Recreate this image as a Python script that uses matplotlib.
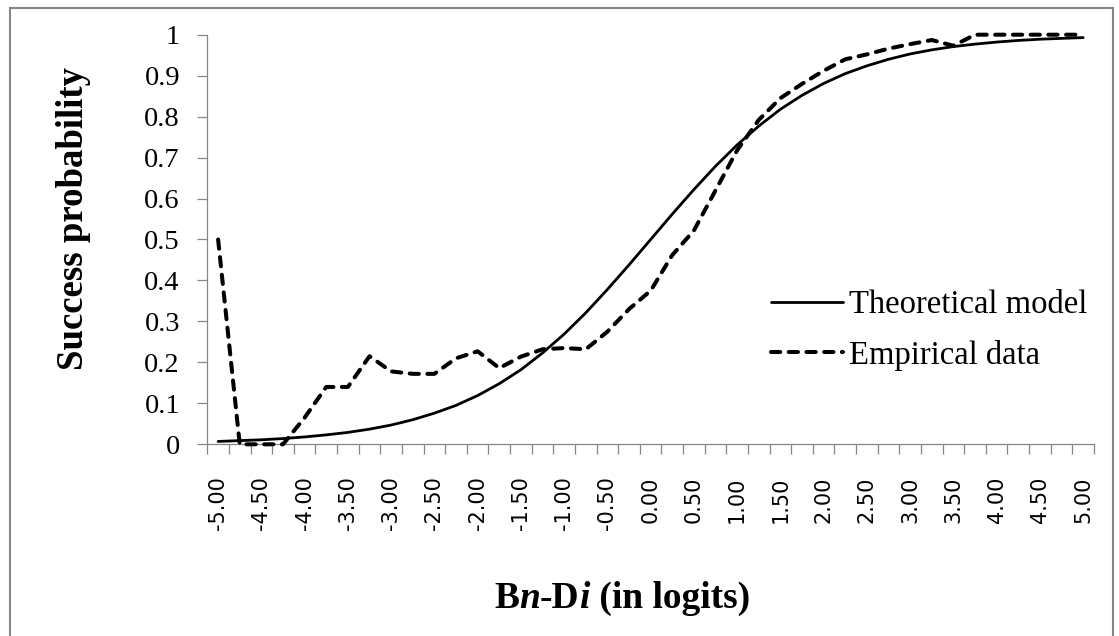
import matplotlib
matplotlib.use("Agg")
import matplotlib.pyplot as plt
from matplotlib.patches import Rectangle
from matplotlib.ticker import FixedLocator

# Ability minus difficulty, in logits (category axis)
categories = [
    "-5.00", "-4.75", "-4.50", "-4.25", "-4.00", "-3.75", "-3.50", "-3.25",
    "-3.00", "-2.75", "-2.50", "-2.25", "-2.00", "-1.75", "-1.50", "-1.25",
    "-1.00", "-0.75", "-0.50", "-0.25", "0.00", "0.25", "0.50", "0.75",
    "1.00", "1.25", "1.50", "1.75", "2.00", "2.25", "2.50", "2.75",
    "3.00", "3.25", "3.50", "3.75", "4.00", "4.25", "4.50", "4.75", "5.00",
]

theoretical = [
    0.007, 0.009, 0.011, 0.014, 0.018, 0.023, 0.029, 0.037,
    0.047, 0.060, 0.076, 0.095, 0.119, 0.148, 0.182, 0.223,
    0.269, 0.321, 0.378, 0.438, 0.500, 0.562, 0.622, 0.679,
    0.731, 0.777, 0.818, 0.852, 0.881, 0.905, 0.924, 0.940,
    0.953, 0.963, 0.971, 0.977, 0.982, 0.986, 0.989, 0.991, 0.993,
]

empirical = [
    0.500, 0.000, 0.000, 0.000, 0.065, 0.140, 0.140, 0.215,
    0.178, 0.172, 0.172, 0.210, 0.227, 0.186, 0.214, 0.232,
    0.235, 0.232, 0.275, 0.330, 0.375, 0.462, 0.522, 0.620,
    0.718, 0.792, 0.845, 0.880, 0.912, 0.940, 0.952, 0.966,
    0.977, 0.987, 0.973, 1.000, 1.000, 1.000, 1.000, 1.000, 1.000,
]

y_ticks = [0, 0.1, 0.2, 0.3, 0.4, 0.5, 0.6, 0.7, 0.8, 0.9, 1]
y_tick_labels = ["0", "0.1", "0.2", "0.3", "0.4", "0.5", "0.6", "0.7", "0.8", "0.9", "1"]

series_names = ["Theoretical model", "Empirical data"]

W, H = 1119, 636
GRAY = "#868686"
SERIF = "Liberation Serif"

fig = plt.figure(figsize=(W / 100, H / 100), dpi=100)
fig.patch.set_facecolor("white")

# outer chart frame
fig.add_artist(Rectangle((10 / W, -0.05), (1113 - 10) / W, 1.05 - 8 / H,
                         transform=fig.transFigure, fill=False,
                         edgecolor=GRAY, linewidth=1.5))

left, right, top, bottom = 207.3, 1094.0, 34.7, 444.3
ax = fig.add_axes([left / W, 1 - bottom / H, (right - left) / W, (bottom - top) / H])

idx = list(range(len(categories)))
ax.plot(idx, theoretical, color="black", lw=2.0, solid_capstyle="round",
        solid_joinstyle="round", label=series_names[0], clip_on=False, zorder=3)
ax.plot(idx, empirical, color="black", lw=2.9, ls=(0, (2.3, 2.1)),
        dash_capstyle="round", dash_joinstyle="round",
        label=series_names[1], clip_on=False, zorder=4)

ax.set_xlim(-0.5, len(categories) - 0.5)
ax.set_ylim(0, 1)

for s in ("top", "right"):
    ax.spines[s].set_visible(False)
for s in ("left", "bottom"):
    ax.spines[s].set_color(GRAY)
    ax.spines[s].set_linewidth(0.9)

# y axis
ax.set_yticks(y_ticks)
ax.set_yticklabels(y_tick_labels, family=SERIF, fontsize=20.5)
ax.tick_params(axis="y", direction="out", length=7.2, width=0.9, color=GRAY, pad=12.5)

# x axis: labels on every other category, ticks on category boundaries
label_pos = idx[::2]
ax.set_xticks(label_pos)
ax.set_xticklabels([categories[i] for i in label_pos], rotation=90,
                   family="DejaVu Sans", fontsize=15)
ax.tick_params(axis="x", which="major", length=0, pad=23)
ax.xaxis.set_minor_locator(FixedLocator([i - 0.5 for i in range(len(categories) + 1)]))
ax.tick_params(axis="x", which="minor", direction="out", length=7.2, width=0.9, color=GRAY)

# axis titles
fig.text(74 / W, 1 - 219 / H, "Success probability", rotation=90,
         ha="center", va="center", fontsize=26.5, weight="bold", family=SERIF)

pieces = [("B", "normal"), ("n", "italic"), ("-D", "normal"),
          ("i", "italic"), (" (in logits)", "normal")]
renderer = fig.canvas.get_renderer()
texts = []
for s, style in pieces:
    t = fig.text(0, 1 - 598 / H, s, ha="left", va="center", fontsize=27,
                 weight="bold", style=style, family=SERIF)
    texts.append(t)
widths = [t.get_window_extent(renderer).width for t in texts]
x0 = 622 - sum(widths) / 2
for t, w in zip(texts, widths):
    t.set_x(x0 / W)
    x0 += w

leg = fig.legend(loc="center left", bbox_to_anchor=(771 / W, 1 - 330 / H),
                 frameon=False, borderpad=0, borderaxespad=0,
                 handlelength=2.2, handletextpad=0.2, labelspacing=0.6,
                 prop={"family": SERIF, "size": 23.5})

fig.savefig("out.png", dpi=100, facecolor="white")
